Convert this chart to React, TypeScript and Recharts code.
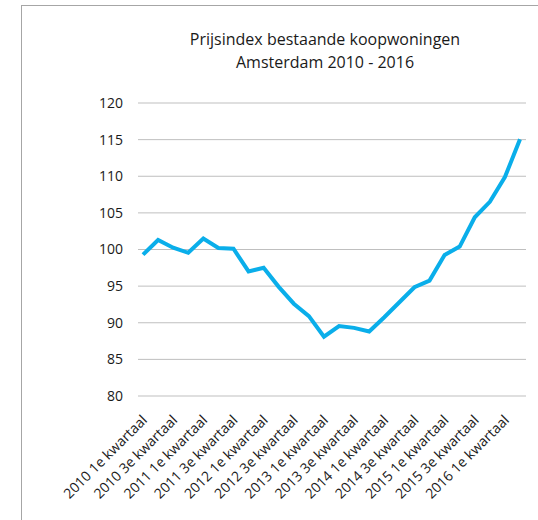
import { LineChart, Line, XAxis, YAxis, CartesianGrid } from 'recharts';

// quarters 2010 Q1 .. 2016 Q2 (only every other one gets a label on the axis)
const quarters = [
  '2010 1e kwartaal', '2010 2e kwartaal', '2010 3e kwartaal', '2010 4e kwartaal',
  '2011 1e kwartaal', '2011 2e kwartaal', '2011 3e kwartaal', '2011 4e kwartaal',
  '2012 1e kwartaal', '2012 2e kwartaal', '2012 3e kwartaal', '2012 4e kwartaal',
  '2013 1e kwartaal', '2013 2e kwartaal', '2013 3e kwartaal', '2013 4e kwartaal',
  '2014 1e kwartaal', '2014 2e kwartaal', '2014 3e kwartaal', '2014 4e kwartaal',
  '2015 1e kwartaal', '2015 2e kwartaal', '2015 3e kwartaal', '2015 4e kwartaal',
  '2016 1e kwartaal', '2016 2e kwartaal',
];

const prijsindex = [
  99.3, 101.3, 100.25, 99.55, 101.5, 100.2, 100.1, 97.0, 97.5, 94.9,
  92.6, 90.9, 88.1, 89.55, 89.3, 88.8, 90.75, 92.8, 94.85, 95.75,
  99.25, 100.4, 104.4, 106.5, 109.9, 115.05,
];

const yTicks = [80, 85, 90, 95, 100, 105, 110, 115, 120];

const FONT = '"Open Sans", "Noto Sans", sans-serif';

const data = quarters.map((q, i) => ({ kwartaal: q, index: prijsindex[i] }));

function RotatedTick({ x, y, payload }: any) {
  return (
    <g transform={`translate(${x + 5},${y + 17})`}>
      <text
        x={0}
        y={0}
        textAnchor="end"
        transform="rotate(-45)"
        fontSize={14}
        fontFamily={FONT}
        fill="#1a1a1a"
      >
        {payload.value}
      </text>
    </g>
  );
}

export default function App() {
  return (
    <div style={{ position: 'absolute', left: 0, top: 0, width: 538, height: 520, background: '#fff' }}>
      {/* frame of the original screenshot */}
      <div
        style={{
          position: 'absolute',
          left: 21,
          top: 5,
          right: 0,
          bottom: 0,
          borderTop: '1px solid #a6a6a6',
          borderLeft: '1px solid #a6a6a6',
        }}
      />
      <div
        style={{
          position: 'absolute',
          left: 120,
          width: 410,
          top: 28,
          textAlign: 'center',
          fontFamily: FONT,
          fontSize: 16,
          lineHeight: '23px',
          color: '#1a1a1a',
        }}
      >
        Prijsindex bestaande koopwoningen
        <br />
        Amsterdam 2010 - 2016
      </div>
      <div style={{ position: 'absolute', left: 0, top: 0 }}>
        <LineChart
          width={538}
          height={520}
          data={data}
          margin={{ top: 103, right: 12, bottom: 0, left: 0 }}
        >
          <CartesianGrid vertical={false} stroke="#bfbfbf" strokeWidth={1} />
          <XAxis
            dataKey="kwartaal"
            interval={1}
            axisLine={false}
            tickLine={false}
            height={124}
            padding={{ left: 5, right: 6 }}
            tick={<RotatedTick />}
          />
          <YAxis
            domain={[80, 120]}
            ticks={yTicks}
            width={138}
            axisLine={false}
            tickLine={false}
            tickSize={0}
            tickMargin={15}
            tick={{ fontSize: 14, fontFamily: FONT, fill: '#1a1a1a' }}
          />
          <Line
            type="linear"
            dataKey="index"
            stroke="#0aaeea"
            strokeWidth={4}
            dot={false}
            isAnimationActive={false}
          />
        </LineChart>
      </div>
    </div>
  );
}
